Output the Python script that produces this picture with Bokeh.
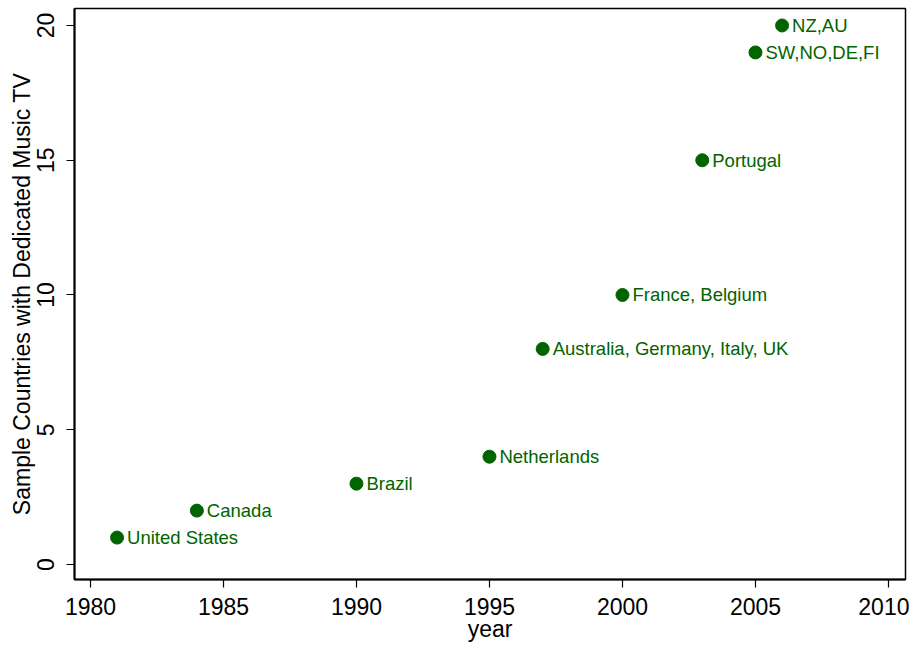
from bokeh.plotting import figure
from bokeh.models import ColumnDataSource, Range1d, FixedTicker
from bokeh.core.properties import value
from bokeh.embed import file_html
from bokeh.resources import INLINE

# Data
years = [1981, 1984, 1990, 1995, 1997, 2000, 2003, 2005, 2006]
counts = [1, 2, 3, 4, 8, 10, 15, 19, 20]
labels = ["United States", "Canada", "Brazil", "Netherlands",
          "Australia, Germany, Italy, UK", "France, Belgium", "Portugal",
          "SW,NO,DE,FI", "NZ,AU"]
x_ticks = [1980, 1985, 1990, 1995, 2000, 2005, 2010]
y_ticks = [0, 5, 10, 15, 20]

GREEN = "#006400"
FONT = "Liberation Sans"

src = ColumnDataSource(dict(x=years, y=counts, label=labels))

p = figure(width=909, height=644, output_backend="svg", toolbar_location=None,
           x_range=Range1d(1979.40, 2010.64), y_range=Range1d(-0.556, 20.63),
           min_border_left=74, min_border_right=4, min_border_top=8,
           min_border_bottom=64)

p.scatter("x", "y", source=src, size=13, marker="circle",
          fill_color=GREEN, line_color=GREEN)
p.text("x", "y", text="label", source=src, x_offset=10,
       text_baseline="middle", text_align="left",
       text_color=GREEN, text_font=value(FONT), text_font_size="18.5px")

p.grid.visible = False
p.outline_line_color = "black"
p.outline_line_width = 1.5
p.background_fill_color = "white"
p.border_fill_color = "white"

p.xaxis.ticker = FixedTicker(ticks=x_ticks)
p.yaxis.ticker = FixedTicker(ticks=y_ticks)
p.xaxis.axis_label = "year"
p.yaxis.axis_label = "Sample Countries with Dedicated Music TV"

for ax in (p.xaxis, p.yaxis):
    ax.axis_line_color = "black"
    ax.axis_line_width = 2
    ax.major_tick_line_color = "black"
    ax.major_tick_line_width = 1.2
    ax.major_tick_out = 8
    ax.major_tick_in = 0
    ax.minor_tick_line_color = None
    ax.major_label_text_font = FONT
    ax.major_label_text_font_size = "23px"
    ax.major_label_text_color = "black"
    ax.axis_label_text_font = FONT
    ax.axis_label_text_font_size = "23px"
    ax.axis_label_text_font_style = "normal"
    ax.axis_label_text_color = "black"

p.yaxis.major_label_orientation = "vertical"
p.yaxis.major_label_standoff = 12
p.yaxis.axis_label_standoff = 0
p.xaxis.major_label_standoff = 10
p.xaxis.axis_label_standoff = -2

open("out.html", "w").write(file_html(p, INLINE))
